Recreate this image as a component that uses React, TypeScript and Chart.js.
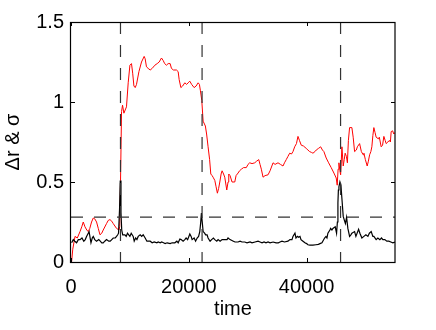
import React, { useEffect, useRef } from "react";
import { Chart, registerables } from "chart.js";

Chart.register(...registerables);

const redTime = [100, 300, 680, 1070, 1530, 1830, 2080, 2370, 2680, 2930, 3190, 3490, 3780, 4030, 4340, 4630, 4920, 5220, 5470, 6030, 6320, 6610, 6920, 7170, 7730, 8140, 8270, 8410, 8580, 8750, 8980, 9200, 9420, 9710, 10000, 10270, 10470, 10680, 10900, 11120, 11530, 11970, 12420, 12590, 12810, 13100, 13440, 13780, 14240, 14630, 14970, 15360, 15640, 15900, 16200, 16490, 16830, 17050, 17390, 17900, 18190, 18360, 18650, 18950, 19320, 19630, 19880, 20170, 20480, 20900, 21240, 21580, 21800, 21970, 22200, 22430, 22810, 23020, 23270, 23530, 23730, 23950, 24120, 24410, 24630, 24850, 25060, 25260, 25480, 25650, 25900, 26100, 26440, 26660, 26780, 27000, 27340, 27800, 28020, 28360, 28610, 28920, 29290, 29760, 30050, 30340, 30730, 31190, 31500, 31870, 32090, 32310, 32600, 32940, 33450, 33790, 34300, 34640, 35140, 35560, 35990, 36240, 36540, 36830, 37120, 37430, 37680, 37970, 38270, 38530, 38780, 39090, 39460, 39930, 40220, 40510, 40820, 41070, 41410, 41630, 42010, 42380, 42680, 42930, 43320, 43730, 44170, 44630, 45020, 45190, 45340, 45480, 45650, 45770, 45990, 46210, 46380, 46540, 46750, 46920, 47090, 47290, 47680, 47900, 48140, 48440, 48610, 48990, 49290, 49600, 49720, 49970, 50280, 50480, 50690, 50900, 51070, 51240, 51410, 51610, 51800, 52170, 52340, 52650, 52890, 53110, 53330, 53500, 53790, 54050, 54220, 54350, 54590, 54800, 55000];
const redValue = [0.0, 0.08, 0.16, 0.15, 0.19, 0.22, 0.25, 0.22, 0.2, 0.19, 0.21, 0.25, 0.275, 0.27, 0.25, 0.21, 0.17, 0.18, 0.2, 0.24, 0.26, 0.265, 0.255, 0.24, 0.21, 0.2, 0.22, 0.51, 0.94, 0.98, 0.93, 0.95, 0.97, 1.12, 1.23, 1.24, 1.18, 1.1, 1.09, 1.11, 1.19, 1.25, 1.285, 1.27, 1.22, 1.21, 1.2, 1.21, 1.23, 1.24, 1.25, 1.275, 1.26, 1.24, 1.23, 1.24, 1.24, 1.21, 1.2, 1.2, 1.19, 1.14, 1.09, 1.1, 1.12, 1.11, 1.12, 1.13, 1.11, 1.09, 1.1, 1.12, 1.11, 1.07, 1.01, 0.88, 0.85, 0.8, 0.72, 0.64, 0.55, 0.54, 0.53, 0.51, 0.47, 0.43, 0.46, 0.5, 0.55, 0.57, 0.55, 0.53, 0.45, 0.5, 0.55, 0.54, 0.5, 0.5, 0.54, 0.556, 0.57, 0.58, 0.59, 0.59, 0.61, 0.62, 0.615, 0.62, 0.63, 0.64, 0.61, 0.58, 0.53, 0.54, 0.545, 0.57, 0.62, 0.61, 0.62, 0.61, 0.6, 0.62, 0.64, 0.66, 0.68, 0.675, 0.69, 0.72, 0.74, 0.785, 0.76, 0.73, 0.725, 0.71, 0.7, 0.69, 0.685, 0.68, 0.69, 0.7, 0.71, 0.72, 0.7, 0.69, 0.65, 0.62, 0.59, 0.556, 0.525, 0.48, 0.58, 0.62, 0.57, 0.545, 0.72, 0.6, 0.64, 0.68, 0.66, 0.62, 0.76, 0.84, 0.84, 0.78, 0.69, 0.7, 0.72, 0.74, 0.69, 0.67, 0.68, 0.64, 0.6, 0.63, 0.67, 0.69, 0.72, 0.79, 0.84, 0.81, 0.78, 0.77, 0.78, 0.72, 0.73, 0.785, 0.76, 0.74, 0.75, 0.76, 0.75, 0.815, 0.82, 0.8, 0.81];

const blackTime = [100, 390, 640, 950, 1240, 1530, 1860, 2170, 2420, 2640, 2930, 3070, 3390, 3610, 3780, 4030, 4340, 4710, 4970, 5220, 5470, 5730, 6030, 6410, 6660, 6920, 7170, 7510, 7730, 7930, 8070, 8240, 8360, 8480, 8610, 8780, 8920, 9150, 9370, 9590, 9800, 10000, 10220, 10340, 10560, 10730, 10980, 11190, 11410, 11750, 12000, 12250, 12590, 12880, 13100, 13440, 13780, 14120, 14580, 14800, 15140, 15390, 15700, 15980, 16320, 16830, 17170, 17630, 17970, 18190, 18480, 18700, 19030, 19320, 19540, 19800, 20170, 20390, 20560, 20900, 21150, 21410, 21660, 21860, 22000, 22140, 22250, 22430, 22680, 22850, 23100, 23270, 23610, 23870, 24170, 24410, 24750, 24970, 25310, 25650, 26150, 26490, 26660, 27000, 27560, 27850, 28360, 28700, 29030, 29490, 29880, 30390, 30730, 31240, 31750, 32090, 32430, 32770, 33100, 33450, 33790, 34300, 34810, 35190, 35480, 35820, 36240, 36830, 37170, 37510, 37680, 38020, 38190, 38440, 38610, 38870, 39040, 39380, 39710, 40000, 40220, 40560, 41070, 41580, 42000, 42260, 42600, 43050, 43280, 43450, 43610, 43950, 44070, 44290, 44460, 44850, 45080, 45220, 45310, 45390, 45480, 45650, 45820, 46040, 46210, 46410, 46580, 46780, 47000, 47290, 47510, 47680, 48140, 48360, 48820, 49040, 49380, 49720, 50060, 50400, 50650, 50960, 51240, 51410, 51800, 52090, 52430, 52710, 52940, 53270, 53610, 53950, 54290, 54630, 55000];
const blackValue = [0.12, 0.14, 0.13, 0.12, 0.14, 0.14, 0.15, 0.13, 0.14, 0.16, 0.18, 0.19, 0.12, 0.15, 0.16, 0.14, 0.13, 0.14, 0.13, 0.12, 0.12, 0.13, 0.14, 0.13, 0.13, 0.14, 0.15, 0.15, 0.16, 0.17, 0.18, 0.33, 0.51, 0.31, 0.2, 0.17, 0.17, 0.17, 0.16, 0.18, 0.17, 0.16, 0.18, 0.18, 0.16, 0.13, 0.15, 0.14, 0.16, 0.17, 0.16, 0.17, 0.15, 0.13, 0.13, 0.13, 0.12, 0.125, 0.12, 0.125, 0.12, 0.125, 0.12, 0.115, 0.12, 0.115, 0.12, 0.12, 0.13, 0.12, 0.144, 0.14, 0.13, 0.14, 0.15, 0.14, 0.175, 0.16, 0.14, 0.15, 0.13, 0.15, 0.16, 0.19, 0.24, 0.306, 0.26, 0.19, 0.18, 0.17, 0.17, 0.15, 0.13, 0.14, 0.15, 0.14, 0.13, 0.14, 0.13, 0.14, 0.14, 0.14, 0.15, 0.14, 0.13, 0.125, 0.125, 0.13, 0.125, 0.125, 0.12, 0.125, 0.12, 0.125, 0.13, 0.125, 0.12, 0.125, 0.12, 0.125, 0.12, 0.125, 0.12, 0.12, 0.125, 0.13, 0.125, 0.13, 0.14, 0.14, 0.16, 0.18, 0.15, 0.16, 0.155, 0.16, 0.14, 0.13, 0.12, 0.115, 0.108, 0.105, 0.105, 0.108, 0.11, 0.115, 0.12, 0.15, 0.16, 0.15, 0.18, 0.2, 0.21, 0.2, 0.21, 0.22, 0.18, 0.25, 0.37, 0.45, 0.47, 0.5, 0.48, 0.37, 0.285, 0.26, 0.24, 0.28, 0.21, 0.16, 0.17, 0.18, 0.19, 0.16, 0.205, 0.18, 0.15, 0.16, 0.17, 0.16, 0.18, 0.19, 0.16, 0.16, 0.14, 0.15, 0.14, 0.15, 0.14, 0.14, 0.13, 0.13, 0.125, 0.12, 0.125];

const eventTimes = [8400, 22250, 45760];
const thresholdValue = 0.28;
const xTickValues = [0, 20000, 40000];
const yTickValues = [0, 0.5, 1, 1.5];
const xMin = 0;
const xMax = 55000;
const yMin = 0;
const yMax = 1.5;
const xTitle = "time";
const yTitle = "Δr & σ";

const FONT = "'Liberation Sans', Arial, Helvetica, sans-serif";

const framePlugin = {
  id: "frameTicks",
  afterDraw(chart: any) {
    const { ctx, chartArea } = chart;
    const { left, right, top, bottom } = chartArea;
    const xs = chart.scales.x;
    const ys = chart.scales.y;
    const tl = 4;
    ctx.save();
    ctx.strokeStyle = "#000";
    ctx.lineWidth = 1;
    ctx.beginPath();
    xs.ticks.forEach((t: any) => {
      const px = Math.round(xs.getPixelForValue(t.value)) + 0.5;
      ctx.moveTo(px, bottom);
      ctx.lineTo(px, bottom - tl);
      ctx.moveTo(px, top);
      ctx.lineTo(px, top + tl);
    });
    ys.ticks.forEach((t: any) => {
      const py = Math.round(ys.getPixelForValue(t.value)) + 0.5;
      ctx.moveTo(left, py);
      ctx.lineTo(left + tl, py);
      ctx.moveTo(right, py);
      ctx.lineTo(right - tl, py);
    });
    ctx.stroke();
    ctx.lineWidth = 1.2;
    ctx.strokeRect(left - 0.5, top + 0.5, right - left + 0.5, bottom - top);
    ctx.restore();
  },
};

export default function App() {
  const ref = useRef<HTMLCanvasElement | null>(null);

  useEffect(() => {
    if (!ref.current) return;
    Chart.defaults.font.family = FONT;
    const redData = redTime.map((t, i) => ({ x: t, y: redValue[i] }));
    const blackData = blackTime.map((t, i) => ({ x: t, y: blackValue[i] }));
    const dashStyle = {
      borderColor: "#333333",
      borderWidth: 1.2,
      borderDash: [12, 11],
      pointRadius: 0,
      fill: false,
    };
    const eventSets = eventTimes.map((t) => ({
      ...dashStyle,
      label: "event",
      data: [
        { x: t, y: yMax },
        { x: t, y: yMin },
      ],
      order: 0,
    }));
    const chart = new Chart(ref.current, {
      type: "line",
      data: {
        datasets: [
          ...eventSets,
          {
            ...dashStyle,
            label: "threshold",
            data: [
              { x: xMin, y: thresholdValue },
              { x: xMax, y: thresholdValue },
            ],
            order: 0,
          },
          {
            label: "sigma",
            data: blackData,
            borderColor: "#000000",
            borderWidth: 1.2,
            pointRadius: 0,
            tension: 0,
            fill: false,
            order: 1,
          },
          {
            label: "dr",
            data: redData,
            borderColor: "#ff0000",
            borderWidth: 1,
            pointRadius: 0,
            tension: 0,
            fill: false,
            order: 2,
          },
        ],
      },
      options: {
        animation: false,
        responsive: false,
        events: [],
        layout: { padding: { left: 0, top: 22, right: 41, bottom: 0 } },
        plugins: {
          legend: { display: false },
          tooltip: { enabled: false },
        },
        scales: {
          x: {
            type: "linear",
            min: xMin,
            max: xMax,
            grid: { display: false, drawTicks: false, tickLength: 0 },
            border: { display: false },
            afterBuildTicks: (s: any) => {
              s.ticks = xTickValues.map((v) => ({ value: v }));
            },
            ticks: {
              maxRotation: 0,
              autoSkip: false,
              padding: 13,
              color: "#000",
              font: { size: 20, family: FONT },
              callback: (v: any) => String(v),
            },
            title: {
              display: true,
              text: xTitle,
              color: "#000",
              font: { size: 20, family: FONT },
              padding: { top: 0, bottom: 9 },
            },
            afterFit: (s: any) => {
              s.height = 68;
            },
          },
          y: {
            type: "linear",
            min: yMin,
            max: yMax,
            grid: { display: false, drawTicks: false, tickLength: 0 },
            border: { display: false },
            afterBuildTicks: (s: any) => {
              s.ticks = yTickValues.map((v) => ({ value: v }));
            },
            ticks: {
              padding: 7,
              autoSkip: false,
              color: "#000",
              font: { size: 20, family: FONT },
              callback: (v: any) => String(v),
            },
            title: {
              display: true,
              text: yTitle,
              color: "#000",
              font: { size: 20, family: FONT },
              padding: { top: 1, bottom: 0 },
            },
            afterFit: (s: any) => {
              s.width = 71;
            },
          },
        },
      },
      plugins: [framePlugin],
    } as any);
    return () => chart.destroy();
  }, []);

  return (
    <div style={{ position: "fixed", left: 0, top: 0, width: 436, height: 330, background: "#fff" }}>
      <canvas ref={ref} width={436} height={330} style={{ display: "block" }} />
    </div>
  );
}
